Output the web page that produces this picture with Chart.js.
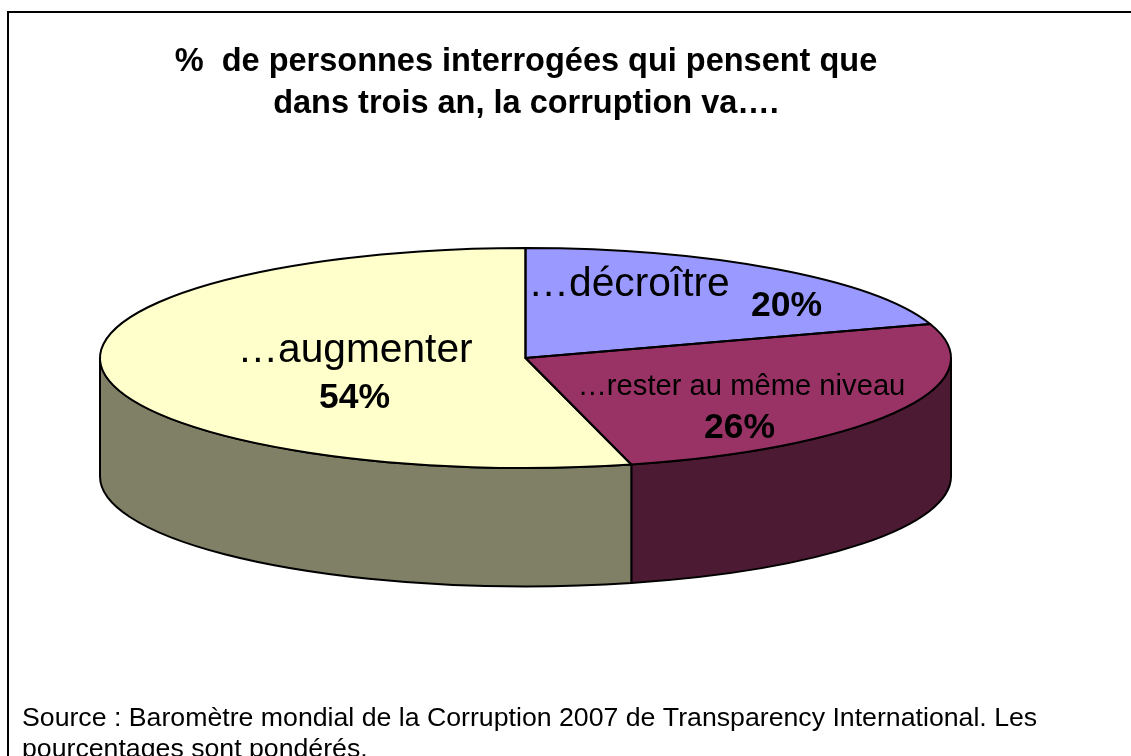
<!DOCTYPE html>
<html><head><meta charset="utf-8">
<style>html,body{margin:0;padding:0;background:#fff;overflow:hidden}canvas{display:block}</style>
<script src="https://cdn.jsdelivr.net/npm/chart.js@4"></script>
</head><body><canvas id="c" width="1131" height="756"></canvas>
<script>
const categories = ['…décroître', '…rester au même niveau', '…augmenter'];
const values = [20, 26, 54];
const topColors = ['#9999FF', '#993366', '#FFFFCC'];
const wallColors = ['#4D4D80', '#4D1A33', '#808066'];
const titleLines = ['%  de personnes interrogées qui pensent que', 'dans trois an, la corruption va….'];
const sourceLines = ['Source : Baromètre mondial de la Corruption 2007 de Transparency International. Les', 'pourcentages sont pondérés.'];

const FONT = '"Liberation Sans", Arial, sans-serif';
const view = {cx: 525.5, cy: 358, rx: 425.5, ry: 110, depth: 118.5};
const labelStyle = [
  {name:{x:629, y:284.5, size:40.7}, pct:{x:786.5, y:306.5, size:35.5}},
  {name:{x:741.5, y:386.5, size:29.2}, pct:{x:739.5, y:428.5, size:35.5}},
  {name:{x:355, y:350.5, size:40.7}, pct:{x:354.5, y:398.5, size:35.5}}
];

function ellipseSeg(ctx, cy, a0, a1, ccw) {
  ctx.ellipse(view.cx, cy, view.rx, view.ry, 0, a0, a1, !!ccw);
}
const pie3d = {
  id: 'pie3d',
  beforeDatasetsDraw(chart) {
    const ctx = chart.ctx;
    const arcs = chart.getDatasetMeta(0).data;
    // side walls (front half of the ellipse only)
    ctx.save();
    ctx.lineWidth = 2; ctx.strokeStyle = '#000'; ctx.lineJoin = 'round';
    arcs.forEach((arc, i) => {
      const p = arc.getProps(['startAngle', 'endAngle']);
      [0, 2 * Math.PI, -2 * Math.PI].forEach(shift => {
        const a0 = Math.max(p.startAngle + shift, 0), a1 = Math.min(p.endAngle + shift, Math.PI);
        if (a1 <= a0) return;
        ctx.beginPath();
        ellipseSeg(ctx, view.cy, a0, a1);
        ellipseSeg(ctx, view.cy + view.depth, a1, a0, true);
        ctx.closePath();
        ctx.fillStyle = wallColors[i];
        ctx.fill(); ctx.stroke();
      });
    });
    ctx.restore();
    // flatten the library's circular slices into the tilted top face
    const a = arcs[0];
    const R = a.outerRadius;
    ctx.save();
    ctx.translate(view.cx, view.cy);
    ctx.scale(view.rx / R, view.ry / R);
    ctx.translate(-a.x, -a.y);
  },
  afterDatasetsDraw(chart) {
    const ctx = chart.ctx;
    ctx.restore();
    const arcs = chart.getDatasetMeta(0).data;
    ctx.save();
    ctx.lineWidth = 2; ctx.strokeStyle = '#000'; ctx.lineJoin = 'round';
    arcs.forEach(arc => {
      const p = arc.getProps(['startAngle', 'endAngle']);
      ctx.beginPath();
      ctx.moveTo(view.cx, view.cy);
      ellipseSeg(ctx, view.cy, p.startAngle, p.endAngle);
      ctx.closePath();
      ctx.stroke();
    });
    ctx.restore();
  },
  afterDraw(chart) {
    const ctx = chart.ctx;
    ctx.save();
    ctx.fillStyle = '#000';
    ctx.textAlign = 'center'; ctx.textBaseline = 'middle';
    categories.forEach((c, i) => {
      const s = labelStyle[i];
      ctx.font = `${s.name.size}px ${FONT}`;
      ctx.fillText(c, s.name.x, s.name.y);
      ctx.font = `bold ${s.pct.size}px ${FONT}`;
      ctx.fillText(values[i] + '%', s.pct.x, s.pct.y);
    });
    // source note
    ctx.textAlign = 'left'; ctx.textBaseline = 'alphabetic';
    ctx.font = `26.7px ${FONT}`;
    ctx.fillText(sourceLines[0], 22, 726);
    ctx.fillText(sourceLines[1], 22, 757);
    // frame
    ctx.strokeStyle = '#000'; ctx.lineWidth = 2;
    ctx.strokeRect(8, 12, 1140, 800);
    ctx.restore();
  }
};

new Chart(document.getElementById('c'), {
  type: 'pie',
  data: {labels: categories, datasets: [{data: values, backgroundColor: topColors, borderWidth: 0}]},
  plugins: [pie3d],
  options: {
    responsive: false,
    animation: false,
    layout: {padding: {right: 79}},
    plugins: {
      legend: {display: false},
      tooltip: {enabled: false},
      title: {
        display: true, text: titleLines, color: '#000',
        font: {family: FONT, size: 32.5, weight: 'bold', lineHeight: 1.29},
        padding: {top: 41, bottom: 0}
      }
    }
  }
});
</script></body></html>
